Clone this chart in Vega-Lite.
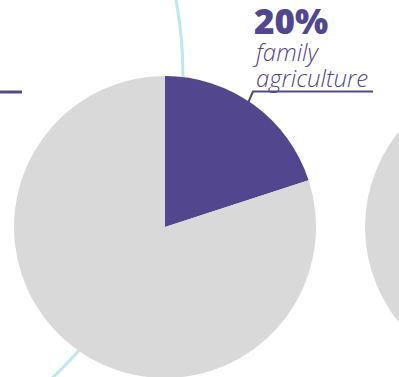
{
  "$schema": "https://vega.github.io/schema/vega-lite/v6.json",
  "width": 399,
  "height": 377,
  "padding": 0,
  "autosize": {"type": "none"},
  "background": "white",
  "config": {"view": {"stroke": null}},
  "datasets": {
    "pie": [
      {"category": "family agriculture", "share": 20, "order": 1},
      {"category": "other", "share": 80, "order": 2}
    ],
    "ring": [{"element": "connector ring", "cx": -231, "cy": 76}],
    "nextPie": [{"element": "neighbouring pie", "cx": 516, "cy": 227}],
    "leader": [
      {"x": 373, "y": 91.5, "step": 1},
      {"x": 253, "y": 91.5, "step": 2},
      {"x": 248, "y": 103, "step": 3}
    ],
    "stub": [{"x": 0, "x2": 22, "y": 92}],
    "labels": [
      {"text": "20%", "x": 254, "y": 34, "kind": "value"},
      {"text": "family", "x": 256, "y": 61, "kind": "name"},
      {"text": "agriculture", "x": 256, "y": 87, "kind": "name"}
    ]
  },
  "layer": [
    {
      "data": {"name": "ring"},
      "mark": {"type": "arc", "radius": 414, "theta": 0, "theta2": 6.2832, "filled": false, "stroke": "#BDE7EE", "strokeWidth": 3},
      "encoding": {
        "x": {"field": "cx", "type": "quantitative", "scale": {"domain": [0, 399], "nice": false, "zero": false}, "axis": null},
        "y": {"field": "cy", "type": "quantitative", "scale": {"domain": [0, 377], "nice": false, "zero": false, "reverse": true}, "axis": null}
      }
    },
    {
      "data": {"name": "pie"},
      "mark": {"type": "arc", "radius": 151},
      "encoding": {
        "theta": {"field": "share", "type": "quantitative", "stack": true},
        "order": {"field": "order", "type": "quantitative"},
        "color": {"field": "category", "type": "nominal", "scale": {"domain": ["family agriculture", "other"], "range": ["#52468E", "#D9D9D9"]}, "legend": null},
        "x": {"datum": 165, "type": "quantitative"},
        "y": {"datum": 227, "type": "quantitative"}
      }
    },
    {
      "data": {"name": "nextPie"},
      "mark": {"type": "arc", "radius": 151, "theta": 0, "theta2": 6.2832, "fill": "#D9D9D9"},
      "encoding": {
        "x": {"field": "cx", "type": "quantitative"},
        "y": {"field": "cy", "type": "quantitative"}
      }
    },
    {
      "data": {"name": "leader"},
      "mark": {"type": "line", "stroke": "#52468E", "strokeWidth": 2},
      "encoding": {
        "x": {"field": "x", "type": "quantitative"},
        "y": {"field": "y", "type": "quantitative"},
        "order": {"field": "step", "type": "quantitative"}
      }
    },
    {
      "data": {"name": "stub"},
      "mark": {"type": "rule", "stroke": "#52468E", "strokeWidth": 3},
      "encoding": {
        "x": {"field": "x", "type": "quantitative"},
        "x2": {"field": "x2"},
        "y": {"field": "y", "type": "quantitative"}
      }
    },
    {
      "data": {"name": "labels"},
      "transform": [{"filter": "datum.kind === 'value'"}],
      "mark": {"type": "text", "align": "left", "baseline": "alphabetic", "font": "Open Sans", "fontWeight": 800, "fontSize": 35, "color": "#52468E"},
      "encoding": {
        "x": {"field": "x", "type": "quantitative"},
        "y": {"field": "y", "type": "quantitative"},
        "text": {"field": "text"}
      }
    },
    {
      "data": {"name": "labels"},
      "transform": [{"filter": "datum.kind === 'name'"}],
      "mark": {"type": "text", "align": "left", "baseline": "alphabetic", "font": "Open Sans", "fontWeight": 300, "fontStyle": "italic", "fontSize": 24, "color": "#52468E"},
      "encoding": {
        "x": {"field": "x", "type": "quantitative"},
        "y": {"field": "y", "type": "quantitative"},
        "text": {"field": "text"}
      }
    }
  ]
}
